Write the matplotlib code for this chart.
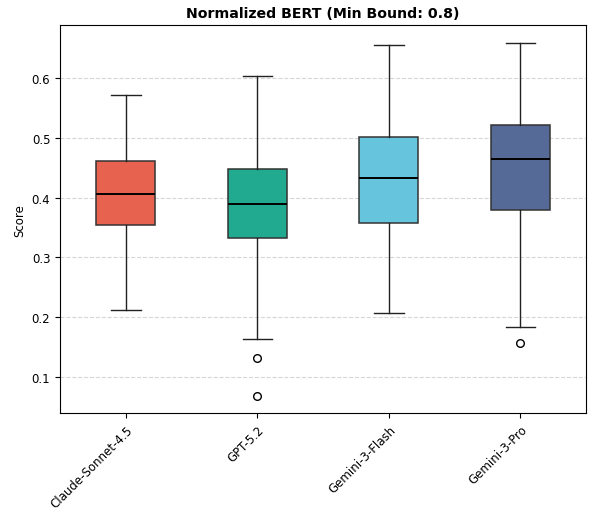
import matplotlib
matplotlib.use("Agg")
import matplotlib.pyplot as plt

models = ["Claude-Sonnet-4.5", "GPT-5.2", "Gemini-3-Flash", "Gemini-3-Pro"]
whislo = [0.211, 0.163, 0.206, 0.184]
q1 = [0.354, 0.332, 0.357, 0.379]
med = [0.406, 0.389, 0.432, 0.464]
q3 = [0.461, 0.448, 0.501, 0.521]
whishi = [0.572, 0.604, 0.655, 0.659]
fliers = [[], [0.131, 0.067], [], [0.156]]
colors = ["#E8634F", "#22AA91", "#66C5DC", "#566A98"]

stats = []
for i, m in enumerate(models):
    stats.append(dict(label=m, whislo=whislo[i], q1=q1[i], med=med[i],
                      q3=q3[i], whishi=whishi[i], fliers=fliers[i]))

plt.rcParams["font.size"] = 8.5
fig, ax = plt.subplots(figsize=(5.95, 5.10), dpi=100)
fig.subplots_adjust(left=0.101, right=0.985, top=0.949, bottom=0.188)

bp = ax.bxp(stats, positions=range(1, 5), widths=0.45, patch_artist=True,
            medianprops=dict(color="black", linewidth=1.4),
            whiskerprops=dict(linewidth=1.0, color="#222222"),
            capprops=dict(linewidth=1.0, color="#222222"),
            flierprops=dict(marker="o", markerfacecolor="none",
                            markeredgecolor="black", markersize=5.5))
for patch, c in zip(bp["boxes"], colors):
    patch.set_facecolor(c)
    patch.set_edgecolor("#333333")
    patch.set_linewidth(1.1)

ax.set_xlim(0.5, 4.5)
ax.set_ylim(0.039, 0.689)
ax.yaxis.grid(True, linestyle="--", color="#cccccc", alpha=0.8)
ax.set_axisbelow(True)
ax.set_ylabel("Score", fontsize=8.5)
ax.set_title("Normalized BERT (Min Bound: 0.8)", fontweight="bold", fontsize=10.2)
plt.setp(ax.get_xticklabels(), rotation=45, ha="right", rotation_mode="anchor")

fig.savefig("out.png", dpi=100)
